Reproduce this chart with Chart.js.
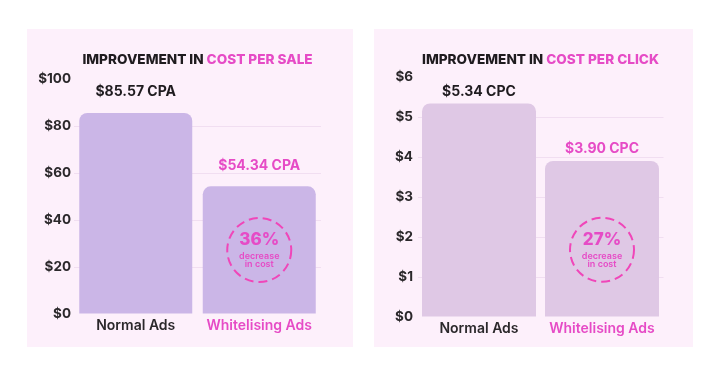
<!DOCTYPE html>
<html>
<head>
<meta charset="utf-8">
<script src="https://cdn.jsdelivr.net/npm/chart.js@4/dist/chart.umd.min.js"></script>
<style>
body { margin: 0; background: #fff; width: 720px; height: 377px; position: relative; overflow: hidden; }
.panel { position: absolute; top: 29px; height: 318px; background: #fdf0fb; }
</style>
</head>
<body>
<div class="panel" style="left:27px;width:326px"><canvas id="cpa-chart"></canvas></div>
<div class="panel" style="left:374px;width:319px"><canvas id="cpc-chart"></canvas></div>
<script>
var categories = ['Normal Ads', 'Whitelising Ads']
var cpaValues = [85.57, 54.34]
var cpcValues = [5.34, 3.90]
var cpaTicks = [0, 20, 40, 60, 80, 100]
var cpcTicks = [0, 1, 2, 3, 4, 5, 6]

var DARK = '#1f1b1f'
var PINK = '#e64bc6'
var FONT = 'Inter, "DejaVu Sans", sans-serif'

// title, value labels and the dashed "decrease" badge
var overlay = {
    id: 'overlay',
    afterDatasetsDraw(chart, args, opts) {
        var ctx = chart.ctx
        var area = chart.chartArea
        var bars = chart.getDatasetMeta(0).data
        var vals = chart.data.datasets[0].data
        ctx.save()

        // two-colour title
        ctx.font = '800 13.6px ' + FONT
        ctx.textBaseline = 'middle'
        ctx.textAlign = 'left'
        var w1 = ctx.measureText(opts.title[0]).width
        var w2 = ctx.measureText(opts.title[1]).width
        var tx = (area.left + area.right) / 2 - (w1 + w2) / 2
        ctx.fillStyle = DARK
        ctx.fillText(opts.title[0], tx, opts.titleY)
        ctx.fillStyle = PINK
        ctx.fillText(opts.title[1], tx + w1, opts.titleY)

        // values above bars
        ctx.textAlign = 'center'
        ctx.font = '700 14px ' + FONT
        bars.forEach(function(bar, i) {
            ctx.fillStyle = i == 0 ? DARK : PINK
            ctx.fillText('$' + vals[i].toFixed(2) + ' ' + opts.unit, bar.x, bar.y - opts.labelGap)
        })

        // badge
        var cx = bars[1].x
        var cy = chart.scales.y.getPixelForValue(opts.badgeAt)
        ctx.strokeStyle = '#f046b9'
        ctx.lineWidth = 2
        ctx.setLineDash([9, 5])
        ctx.beginPath()
        ctx.arc(cx, cy, 32, 0, Math.PI * 2)
        ctx.stroke()
        ctx.setLineDash([])
        var pct = Math.round((1 - vals[1] / vals[0]) * 100)
        ctx.fillStyle = PINK
        ctx.font = '800 17px ' + FONT
        ctx.fillText(pct + '%', cx, cy - 10)
        ctx.font = '600 9px ' + FONT
        ctx.fillText('decrease', cx, cy + 6)
        ctx.fillText('in cost', cx, cy + 14)
        ctx.restore()
    }
}

function makeChart(id, values, ticks, barColor, opts) {
    var ctx = document.getElementById(id).getContext('2d')
    return new Chart(ctx, {
        type: 'bar',
        data: {
            labels: categories,
            datasets: [{
                data: values,
                backgroundColor: barColor,
                borderRadius: 8,
                borderSkipped: 'bottom',
                barPercentage: opts.barPct,
                categoryPercentage: 1
            }]
        },
        options: {
            responsive: true,
            maintainAspectRatio: false,
            animation: false,
            layout: { padding: opts.padding },
            plugins: {
                legend: { display: false },
                tooltip: { enabled: false },
                overlay: opts
            },
            scales: {
                x: {
                    grid: { display: false, drawTicks: false },
                    border: { display: false },
                    afterFit: function(s) { s.height = 24 },
                    ticks: {
                        padding: 3,
                        font: { family: FONT, size: 14, weight: '600' },
                        color: function(c) { return c.index == 0 ? '#2b282b' : PINK }
                    }
                },
                y: {
                    min: ticks[0],
                    max: ticks[ticks.length - 1],
                    afterFit: function(s) { s.width = opts.yWidth },
                    afterBuildTicks: function(s) { s.ticks = ticks.map(function(v) { return { value: v } }) },
                    border: { display: false },
                    grid: {
                        color: function(c) {
                            var v = c.tick ? c.tick.value : 0
                            return (v == ticks[0] || v == ticks[ticks.length - 1]) ? 'rgba(0,0,0,0)' : '#f1def1'
                        },
                        drawTicks: false
                    },
                    ticks: {
                        padding: opts.tickPad,
                        font: { family: FONT, size: 13.5, weight: '700' },
                        color: '#2b282b',
                        callback: function(v) { return '$' + v }
                    }
                }
            }
        },
        plugins: [overlay]
    })
}

makeChart('cpa-chart', cpaValues, cpaTicks, '#cbb6e7', {
    title: ['IMPROVEMENT IN ', 'COST PER SALE'],
    unit: 'CPA',
    titleY: 31,
    labelGap: 21,
    badgeAt: 27.2,
    yWidth: 47,
    tickPad: 3,
    barPct: 0.915,
    padding: { left: 0, top: 50, right: 32, bottom: 9 }
})

makeChart('cpc-chart', cpcValues, cpcTicks, '#dfc8e5', {
    title: ['IMPROVEMENT IN ', 'COST PER CLICK'],
    unit: 'CPC',
    titleY: 31,
    labelGap: 12,
    badgeAt: 1.68,
    yWidth: 43.5,
    tickPad: 4.5,
    barPct: 0.927,
    padding: { left: 0, top: 48, right: 29.5, bottom: 6 }
})
</script>
</body>
</html>
